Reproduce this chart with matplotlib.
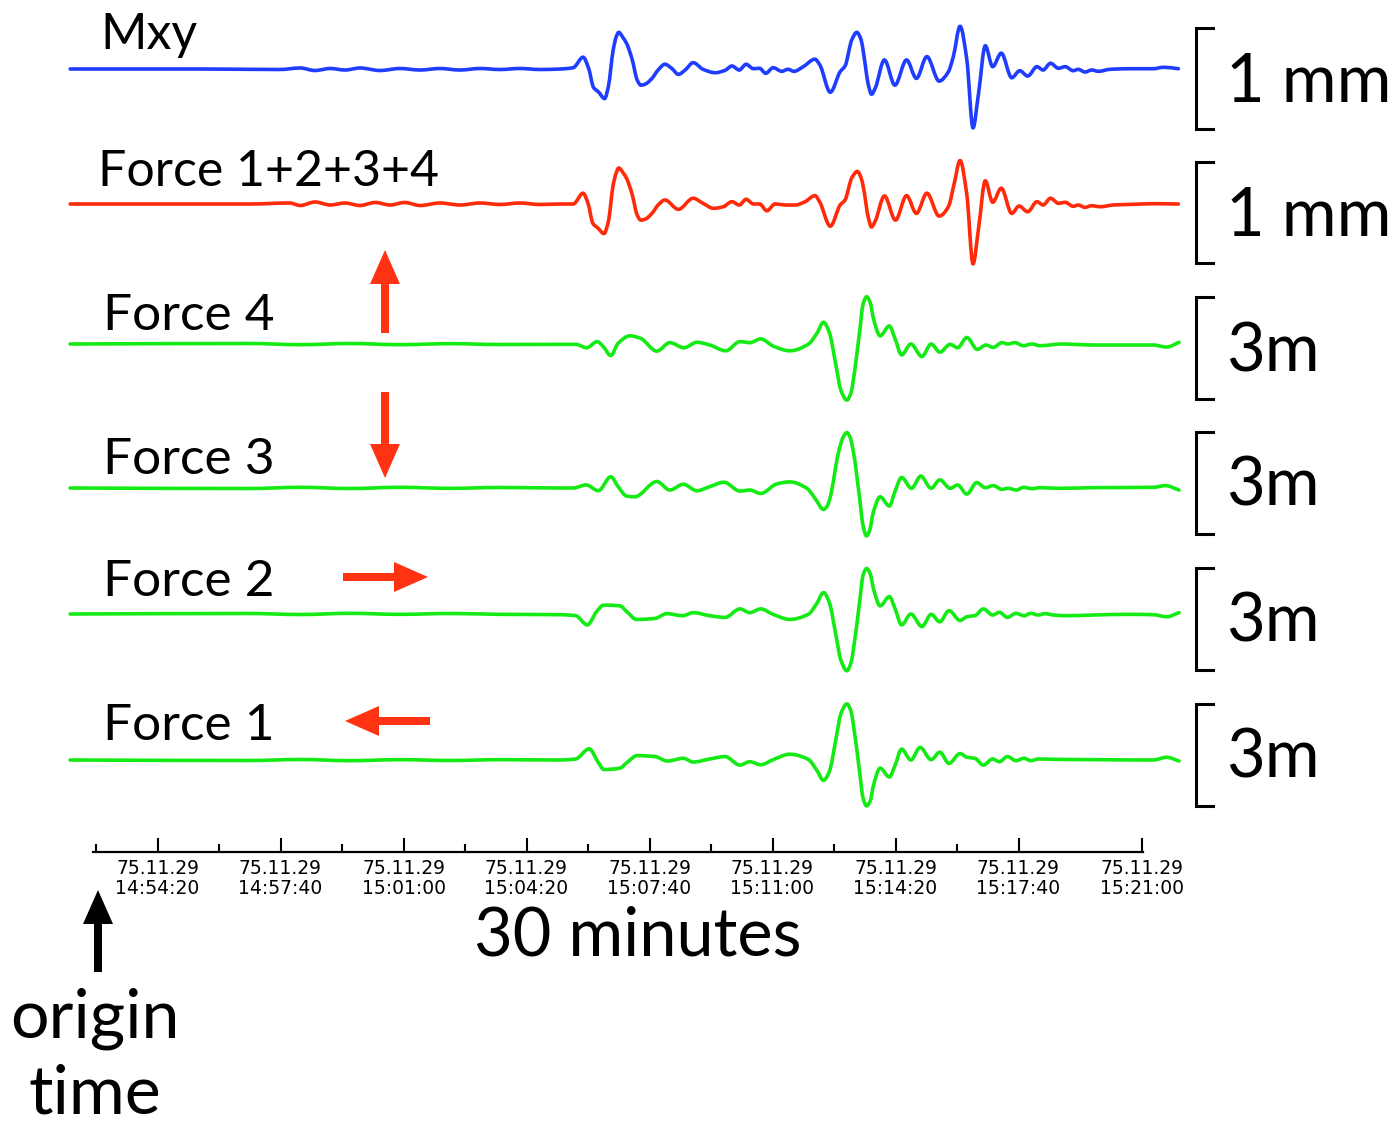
import matplotlib
matplotlib.use("Agg")
import matplotlib.pyplot as plt
import numpy as np
from matplotlib.patches import FancyArrow, PathPatch
from matplotlib.path import Path
from matplotlib.ticker import FixedLocator, FixedFormatter

W, H = 1397, 1126
SEC_PER_PX = 200 / 123   # time scale of the record
X0 = 96                  # pixel column of the origin time

# ---- data: (seconds after origin time, amplitude) ----
mxy = [(-42, 0), (169, 0), (299, -0.005), (332, 0.01), (356, -0.015), (381, 0.005), (405, -0.01),
       (429, 0.01), (462, -0.015), (494, 0.005), (527, -0.01), (559, 0.005), (592, -0.01), (624, 0.005),
       (657, -0.005), (689, 0.005), (722, -0.005), (755, 0), (776, 0.013), (792, 0.117), (801, 0.007),
       (809, -0.183), (817, -0.227), (827, -0.293), (833, -0.177), (841, 0.19), (846, 0.32), (850, 0.363),
       (857, 0.31), (863, 0.25), (872, 0.09), (880, -0.11), (886, -0.16), (893, -0.15), (904, -0.093),
       (914, -0.01), (925, 0.047), (936, 0.007), (947, -0.053), (958, -0.01), (971, 0.063), (987, -0.003),
       (1007, -0.037), (1023, -0.013), (1034, 0.03), (1046, -0.01), (1057, 0.047), (1069, 0.003),
       (1079, 0.007), (1089, -0.043), (1101, 0.013), (1115, -0.023), (1125, -0.003), (1135, -0.023),
       (1150, 0.023), (1169, 0.097), (1177, 0.04), (1194, -0.23), (1210, -0.027), (1218, 0.03),
       (1229, 0.29), (1237, 0.363), (1244, 0.29), (1248, 0.157), (1256, -0.16), (1261, -0.25),
       (1267, -0.19), (1282, 0.09), (1299, -0.16), (1318, 0.09), (1334, -0.093), (1351, 0.123),
       (1371, -0.12), (1386, -0.027), (1394, 0.123), (1405, 0.423), (1416, 0.09), (1426, -0.583),
       (1435, -0.243), (1446, 0.23), (1458, 0.023), (1472, 0.157), (1489, -0.087), (1502, -0.017),
       (1515, -0.07), (1530, 0.023), (1540, -0.01), (1552, 0.057), (1565, 0.007), (1576, 0.023),
       (1589, -0.017), (1597, -0.003), (1608, -0.03), (1619, -0.01), (1630, -0.023), (1649, -0.003),
       (1687, 0.003), (1719, 0.003), (1736, 0.017), (1760, 0.003)]

force_sum = [(-42, 0), (250, 0), (315, 0.01), (332, -0.015), (356, 0.02), (381, -0.01), (405, 0.01),
             (429, -0.015), (454, 0.015), (478, -0.01), (502, 0.015), (527, -0.015), (559, 0.01),
             (592, -0.01), (624, 0.01), (657, -0.005), (689, 0.01), (722, -0.005), (755, 0), (776, 0),
             (792, 0.107), (800, 0.007), (808, -0.193), (816, -0.237), (826, -0.293), (833, -0.177),
             (841, 0.19), (846, 0.31), (850, 0.357), (857, 0.31), (863, 0.25), (872, 0.09), (880, -0.11),
             (886, -0.16), (893, -0.15), (904, -0.093), (914, -0.01), (925, 0.04), (947, -0.053),
             (971, 0.057), (987, 0.007), (1004, -0.043), (1020, -0.027), (1034, 0.023), (1046, -0.01),
             (1057, 0.047), (1069, 0), (1079, 0), (1091, -0.067), (1104, 0), (1123, -0.01), (1137, -0.01),
             (1153, 0.023), (1169, 0.083), (1177, 0.017), (1194, -0.22), (1210, -0.01), (1218, 0.04),
             (1229, 0.26), (1238, 0.323), (1244, 0.26), (1248, 0.157), (1256, -0.14), (1261, -0.227),
             (1267, -0.17), (1282, 0.08), (1300, -0.16), (1318, 0.083), (1334, -0.093), (1351, 0.107),
             (1371, -0.12), (1386, -0.027), (1395, 0.19), (1405, 0.43), (1416, 0.09), (1426, -0.593),
             (1435, -0.243), (1446, 0.23), (1458, 0.017), (1472, 0.157), (1489, -0.093), (1501, -0.02),
             (1515, -0.077), (1530, 0.023), (1540, -0.01), (1552, 0.057), (1565, 0.007), (1576, 0.017),
             (1589, -0.023), (1597, -0.01), (1608, -0.033), (1619, -0.017), (1633, -0.027), (1654, -0.01),
             (1687, -0.003), (1719, 0.003), (1760, 0)]

force4 = [(-42, 0), (250, 0.015), (332, -0.02), (413, 0.015), (494, -0.02), (576, 0.01), (657, -0.015),
          (755, -0.01), (780, -0.01), (798, -0.11), (815, 0.07), (825, -0.08), (837, -0.34), (849, 0.02),
          (868, 0.24), (885, 0.17), (912, -0.21), (933, 0.04), (956, -0.11), (977, 0.05), (998, -0.03),
          (1024, -0.2), (1047, 0.07), (1063, 0.04), (1081, 0.15), (1101, -0.06), (1128, -0.2),
          (1158, -0.01), (1172, 0.31), (1183, 0.64), (1192, 0.36), (1204, -0.71), (1211, -1.35),
          (1221, -1.65), (1228, -1.41), (1231, -1.11), (1242, 0.41), (1247, 1.15), (1253, 1.39),
          (1259, 1.21), (1264, 0.76), (1275, 0.24), (1290, 0.53), (1299, 0.17), (1310, -0.32),
          (1325, 0), (1343, -0.37), (1358, 0), (1372, -0.24), (1389, -0.01), (1401, -0.11), (1416, 0.19),
          (1433, -0.16), (1447, -0.03), (1459, -0.1), (1473, 0.04), (1483, 0), (1494, 0.04), (1508, -0.05),
          (1522, 0), (1535, -0.05), (1551, -0.03), (1568, 0), (1589, -0.01), (1622, -0.03), (1676, -0.03),
          (1719, -0.03), (1741, -0.09), (1761, 0.05)]

force3 = [(-42, 0), (250, -0.015), (332, 0.02), (413, -0.015), (494, 0.02), (576, -0.01), (657, 0.015),
          (755, 0), (776, 0), (797, 0.09), (817, -0.08), (837, 0.33), (849, 0.04), (863, -0.24),
          (876, -0.26), (912, 0.19), (933, -0.06), (955, 0.11), (977, -0.08), (998, 0.04), (1021, 0.17),
          (1047, -0.09), (1063, -0.06), (1081, -0.16), (1107, 0.12), (1128, 0.18), (1156, -0.01),
          (1169, -0.3), (1183, -0.63), (1189, -0.53), (1194, -0.26), (1207, 1.02), (1215, 1.5),
          (1221, 1.63), (1226, 1.5), (1231, 1.12), (1242, -0.35), (1247, -1.09), (1253, -1.41),
          (1258, -1.24), (1264, -0.71), (1275, -0.26), (1290, -0.53), (1299, -0.11), (1310, 0.31),
          (1326, -0.01), (1341, 0.35), (1358, -0.01), (1372, 0.24), (1389, -0.01), (1401, 0.09),
          (1416, -0.18), (1432, 0.16), (1446, 0.01), (1459, 0.07), (1473, -0.04), (1483, -0.01),
          (1497, -0.06), (1508, 0.02), (1522, -0.02), (1535, 0.01), (1568, -0.01), (1622, 0.01),
          (1719, 0.02), (1739, 0.07), (1761, -0.06)]

force2 = [(-42, 0), (250, 0.015), (332, -0.015), (413, 0.02), (494, -0.01), (576, 0.015), (657, -0.01),
          (755, -0.02), (780, -0.05), (799, -0.32), (814, 0.07), (825, 0.26), (852, 0.24), (863, 0.07),
          (879, -0.16), (909, -0.13), (928, 0.01), (954, -0.05), (971, 0.04), (998, -0.05), (1023, -0.1),
          (1047, 0.15), (1063, 0.04), (1081, 0.15), (1101, -0.01), (1128, -0.16), (1158, -0.01),
          (1172, 0.31), (1183, 0.63), (1192, 0.36), (1204, -0.71), (1211, -1.35), (1221, -1.67),
          (1228, -1.41), (1231, -1.11), (1242, 0.41), (1247, 1.12), (1253, 1.34), (1259, 1.18),
          (1264, 0.76), (1275, 0.24), (1290, 0.51), (1299, 0.17), (1310, -0.32), (1325, 0), (1343, -0.37),
          (1358, -0.01), (1372, -0.23), (1387, 0.1), (1405, -0.19), (1416, -0.08), (1429, -0.05),
          (1443, 0.15), (1458, -0.03), (1469, 0.05), (1482, -0.1), (1496, 0.02), (1509, -0.05),
          (1520, 0.02), (1532, -0.03), (1543, 0.01), (1557, -0.03), (1578, -0.05), (1622, -0.03),
          (1676, -0.01), (1719, -0.02), (1741, -0.08), (1761, 0.04)]

force1 = [(-42, 0), (250, -0.015), (332, 0.015), (413, -0.02), (494, 0.01), (576, -0.015), (657, 0.01),
          (755, 0), (780, 0.03), (802, 0.33), (816, -0.05), (826, -0.28), (852, -0.24), (863, -0.08),
          (880, 0.13), (909, 0.1), (929, -0.03), (955, 0.05), (971, -0.06), (998, 0.03), (1023, 0.1),
          (1047, -0.15), (1063, -0.05), (1081, -0.14), (1101, 0.01), (1128, 0.17), (1158, 0.02),
          (1172, -0.3), (1183, -0.6), (1192, -0.36), (1204, 0.7), (1211, 1.35), (1221, 1.65), (1228, 1.41),
          (1231, 1.1), (1242, -0.4), (1247, -1.1), (1253, -1.35), (1259, -1.2), (1264, -0.76),
          (1275, -0.24), (1290, -0.5), (1299, -0.17), (1310, 0.32), (1325, 0), (1340, 0.37),
          (1358, 0.01), (1372, 0.23), (1387, -0.1), (1405, 0.19), (1416, 0.08), (1429, 0.05),
          (1443, -0.15), (1458, 0.03), (1469, -0.05), (1482, 0.1), (1496, -0.02), (1509, 0.05),
          (1520, -0.02), (1532, 0.03), (1557, 0.02), (1622, 0.01), (1719, 0), (1741, 0.08), (1761, -0.03)]

trace_names = ["Mxy", "Force 1+2+3+4", "Force 4", "Force 3", "Force 2", "Force 1"]
scale_labels = ["1 mm", "1 mm", "3m", "3m", "3m", "3m"]
scale_sizes = [1, 1, 3, 3, 3, 3]

major_ticks = [100, 300, 500, 700, 900, 1100, 1300, 1500, 1700]
minor_ticks = [0, 200, 400, 600, 800, 1000, 1200, 1400]
tick_labels = ["75.11.29\n14:54:20", "75.11.29\n14:57:40", "75.11.29\n15:01:00",
               "75.11.29\n15:04:20", "75.11.29\n15:07:40", "75.11.29\n15:11:00",
               "75.11.29\n15:14:20", "75.11.29\n15:17:40", "75.11.29\n15:21:00"]

# ---- layout (figure pixels) ----
BLUE, RED, GREEN, ARROW = "#1f3dff", "#ff2a0a", "#14ea14", "#ff3311"
FONT = "Lato"
traces = [
    # data, baseline y, px per unit, colour, label x, label baseline y, bar top y
    (mxy, 69, 101, BLUE, 100, 49, 28),
    (force_sum, 204, 101, RED, 98, 186, 162),
    (force4, 344, 34, GREEN, 103, 330, 297),
    (force3, 488, 34, GREEN, 103, 474, 432),
    (force2, 614, 34, GREEN, 103, 596, 568),
    (force1, 760, 34, GREEN, 103, 740, 704),
]


def smooth_path(xs, ys):
    """Monotone cubic (Fritsch-Carlson) through the read points, as Bezier segments."""
    xs = np.asarray(xs, float)
    ys = np.asarray(ys, float)
    h = np.diff(xs)
    d = np.diff(ys) / h
    m = np.zeros(len(xs))
    m[0], m[-1] = d[0], d[-1]
    for i in range(1, len(xs) - 1):
        if d[i - 1] * d[i] > 0:
            w1 = 2 * h[i] + h[i - 1]
            w2 = h[i] + 2 * h[i - 1]
            m[i] = (w1 + w2) / (w1 / d[i - 1] + w2 / d[i])
    verts = [(xs[0], ys[0])]
    codes = [Path.MOVETO]
    for i in range(len(xs) - 1):
        verts += [(xs[i] + h[i] / 3, ys[i] + m[i] * h[i] / 3),
                  (xs[i + 1] - h[i] / 3, ys[i + 1] - m[i + 1] * h[i] / 3),
                  (xs[i + 1], ys[i + 1])]
        codes += [Path.CURVE4] * 3
    return Path(verts, codes)


fig = plt.figure(figsize=(W / 100, H / 100), dpi=100)
fig.patch.set_facecolor("white")

ax = fig.add_axes([0, 0, 1, 1])
ax.set_xlim(-X0 * SEC_PER_PX, (W - X0) * SEC_PER_PX)
ax.set_ylim(H, 0)
ax.axis("off")

px = fig.add_axes([0, 0, 1, 1], zorder=3)
px.set_xlim(0, W)
px.set_ylim(H, 0)
px.axis("off")
px.patch.set_alpha(0)

for i, (data, base, gain, color, lab_x, lab_y, bar_top) in enumerate(traces):
    t = [p[0] for p in data]
    a = [base - p[1] * gain for p in data]
    ax.add_patch(PathPatch(smooth_path(t, a), fill=False, edgecolor=color, lw=2.6,
                           joinstyle="round", capstyle="round"))
    size = 36 if i < 2 else 37
    px.text(lab_x, lab_y, trace_names[i], fontsize=size, family=FONT, ha="left", va="baseline")
    bar_bot = bar_top + scale_sizes[i] * gain
    px.plot([1213, 1196, 1196, 1213], [bar_top, bar_top, bar_bot, bar_bot], color="black",
            lw=2.2, solid_joinstyle="miter")
    px.text(1226, (bar_top + bar_bot) / 2 + 4, scale_labels[i], fontsize=48, family=FONT,
            ha="left", va="center")

# time axis
tax = fig.add_axes([0, 1 - 852 / H, 1, 1e-5])
tax.set_xlim(ax.get_xlim())
tax.set_yticks([])
for side in ("left", "right", "top"):
    tax.spines[side].set_visible(False)
tax.spines["bottom"].set_linewidth(1.6)
tax.spines["bottom"].set_bounds(-5, 1702)
tax.xaxis.set_major_locator(FixedLocator(major_ticks))
tax.xaxis.set_major_formatter(FixedFormatter(tick_labels))
tax.xaxis.set_minor_locator(FixedLocator(minor_ticks))
tax.tick_params(axis="x", which="major", direction="in", length=10, width=1.5, pad=5,
                labelsize=13.5)
tax.tick_params(axis="x", which="minor", direction="in", length=5.5, width=1.5)
for lab in tax.get_xticklabels():
    lab.set_family("DejaVu Sans")
    lab.set_linespacing(1.05)

px.text(474, 956, "30 minutes", fontsize=48, family=FONT, ha="left", va="baseline")
px.text(10, 1038, "origin", fontsize=49, family=FONT, ha="left", va="baseline")
px.text(28, 1125, "time", fontsize=49, family=FONT, ha="left", va="bottom")

# force direction arrows and origin marker
arrow_kw = dict(width=8, head_width=30, head_length=34, length_includes_head=True, lw=0)
px.add_patch(FancyArrow(385, 333, 0, -83, color=ARROW, **arrow_kw))
px.add_patch(FancyArrow(385, 392, 0, 86, color=ARROW, **arrow_kw))
px.add_patch(FancyArrow(343, 577, 85, 0, color=ARROW, **arrow_kw))
px.add_patch(FancyArrow(430, 721, -85, 0, color=ARROW, **arrow_kw))
px.add_patch(FancyArrow(98, 972, 0, -82, color="black", **arrow_kw))

fig.savefig("out.png", dpi=100)
